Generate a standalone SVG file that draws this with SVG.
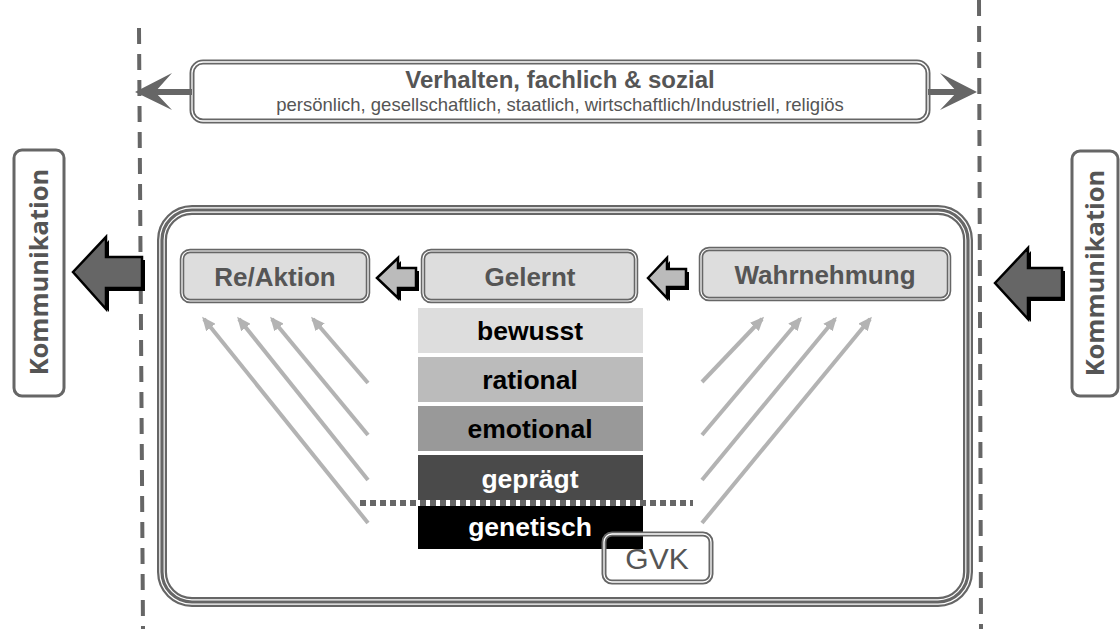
<svg xmlns="http://www.w3.org/2000/svg" width="1120" height="629" viewBox="0 0 1120 629">
<defs>
<marker id="ga" viewBox="0 0 14 12" refX="11" refY="6" markerWidth="14" markerHeight="12" markerUnits="userSpaceOnUse" orient="auto"><path d="M0,0 L14,6 L0,12 Z" fill="#b3b3b3"/></marker>
</defs>
<style>
text{font-family:"Liberation Sans",Arial,sans-serif}
.dash{stroke:#666;stroke-width:4;stroke-dasharray:16 10;fill:none}
.g2o{stroke:#666;stroke-width:5;fill:none}
.g2i{stroke:#fff;stroke-width:1.3;fill:none}
.box{fill:#ddd;stroke:#666;stroke-width:4.5}
.boxi{fill:none;stroke:#fff;stroke-width:1.2}
.lbl{font-size:26px;font-weight:bold;fill:#555;text-anchor:middle}
.lay{font-size:26.5px;font-weight:bold;text-anchor:middle}
.ga{stroke:#b3b3b3;stroke-width:4;fill:none;marker-end:url(#ga)}
.kom{font-family:"Open Sans","Liberation Sans",sans-serif;font-size:25.5px;font-weight:bold;fill:#555;text-anchor:middle}
</style>
<rect width="1120" height="629" fill="#fff"/>

<g id="boundaries">
<line class="dash" x1="139" y1="28" x2="143" y2="629"/>
<line class="dash" x1="979" y1="0" x2="981" y2="629"/>
</g>

<g id="verhalten">
<rect x="192" y="62" width="736" height="59" rx="11" fill="#fff" class="g2o"/>
<rect x="192" y="62" width="736" height="59" rx="11" class="g2i"/>
<text x="560" y="88" style="font-size:24px;font-weight:bold;fill:#555;text-anchor:middle">Verhalten, fachlich &amp; sozial</text>
<text x="560" y="111" style="font-size:18.5px;fill:#555;text-anchor:middle">persönlich, gesellschaftlich, staatlich, wirtschaftlich/Industriell, religiös</text>
</g>

<g id="kommunikation-links">
<rect x="14" y="150" width="50" height="246" rx="8" fill="#fff" stroke="#666" stroke-width="3"/>
<text class="kom" transform="translate(48,272) rotate(-90)">Kommunikation</text>
</g>
<g id="kommunikation-rechts">
<rect x="1072" y="151" width="46" height="245" rx="8" fill="#fff" stroke="#666" stroke-width="3"/>
<text class="kom" transform="translate(1104,273) rotate(-90)">Kommunikation</text>
</g>

<g id="container">
<rect x="162" y="210" width="806" height="392" rx="30" fill="#fff" stroke="#666" stroke-width="10"/>
<rect x="162" y="210" width="806" height="392" rx="30" fill="none" stroke="#fff" stroke-width="5.5"/>
<rect x="162" y="210" width="806" height="392" rx="30" fill="none" stroke="#666" stroke-width="3.2"/>
</g>

<g id="re-aktion">
<rect x="182" y="251" width="186" height="50" rx="8" class="box"/>
<rect x="182" y="251" width="186" height="50" rx="8" class="boxi"/>
<text class="lbl" x="275" y="286">Re/Aktion</text>
</g>
<g id="gelernt">
<rect x="423" y="251" width="213" height="50" rx="8" class="box"/>
<rect x="423" y="251" width="213" height="50" rx="8" class="boxi"/>
<text class="lbl" x="530" y="286">Gelernt</text>
</g>
<g id="wahrnehmung">
<rect x="701" y="249" width="248" height="50" rx="8" class="box"/>
<rect x="701" y="249" width="248" height="50" rx="8" class="boxi"/>
<text class="lbl" x="825" y="284">Wahrnehmung</text>
</g>

<g id="stack">
<rect x="418" y="308" width="225" height="45" fill="#ddd"/>
<text class="lay" x="530" y="340" fill="#000">bewusst</text>
<rect x="418" y="357" width="225" height="45" fill="#bbb"/>
<text class="lay" x="530" y="389" fill="#000">rational</text>
<rect x="418" y="406" width="225" height="45" fill="#999"/>
<text class="lay" x="530" y="438" fill="#000">emotional</text>
<rect x="418" y="455" width="225" height="46" fill="#4a4a4a"/>
<text class="lay" x="530" y="488" fill="#fff">geprägt</text>
<rect x="418" y="505" width="225" height="44" fill="#000"/>
<text class="lay" x="530" y="536" fill="#fff">genetisch</text>
</g>

<g id="gvk">
<rect x="604" y="534" width="107" height="48" rx="8" fill="#fff" class="g2o"/>
<rect x="604" y="534" width="107" height="48" rx="8" class="g2i"/>
<text x="657" y="569" style="font-size:30px;fill:#555;text-anchor:middle">GVK</text>
</g>

<g id="connectors">
<rect x="418" y="500" width="225" height="6" fill="#fff"/>
<line x1="360" y1="503" x2="693" y2="503" stroke="#666" stroke-width="6" stroke-dasharray="6 4"/>

<path d="M155,92 L192,92" stroke="#666" stroke-width="6"/>
<path d="M135,92 L172,73 L155,92 L172,110 Z" fill="#666"/>
<path d="M928,92 L960,92" stroke="#666" stroke-width="6"/>
<path d="M977,92 L940,73 L957,92 L940,110 Z" fill="#666"/>

<path d="M76,275 L109,240 L109,260 L145,260 L145,291 L109,291 L109,312 Z" fill="#000"/>
<path d="M73,272 L106,237 L106,257 L142,257 L142,288 L106,288 L106,309 Z" fill="#666" stroke="#000" stroke-width="2.5" stroke-linejoin="miter"/>
<path d="M998,286 L1031,251 L1031,271 L1065,271 L1065,301 L1031,301 L1031,322 Z" fill="#000"/>
<path d="M995,283 L1028,248 L1028,268 L1062,268 L1062,298 L1028,298 L1028,319 Z" fill="#666" stroke="#000" stroke-width="2.5"/>

<path d="M380,281 L401,261 L401,271 L419,271 L419,291 L401,291 L401,301 Z" fill="#000"/>
<path d="M377,278 L398,258 L398,268 L416,268 L416,288 L398,288 L398,298 Z" fill="#bbb" stroke="#000" stroke-width="2.5"/>
<path d="M651,281 L670,261 L670,272 L689,272 L689,290 L670,290 L670,301 Z" fill="#000"/>
<path d="M648,278 L667,258 L667,269 L686,269 L686,287 L667,287 L667,298 Z" fill="#bbb" stroke="#000" stroke-width="2.5"/>

<line class="ga" x1="368" y1="523" x2="204" y2="319"/>
<line class="ga" x1="368" y1="480" x2="239" y2="319"/>
<line class="ga" x1="368" y1="435" x2="272" y2="319"/>
<line class="ga" x1="368" y1="383" x2="313" y2="319"/>
<line class="ga" x1="702" y1="382" x2="762" y2="319"/>
<line class="ga" x1="702" y1="435" x2="800" y2="319"/>
<line class="ga" x1="702" y1="480" x2="835" y2="319"/>
<line class="ga" x1="702" y1="523" x2="870" y2="319"/>
</g>
</svg>
